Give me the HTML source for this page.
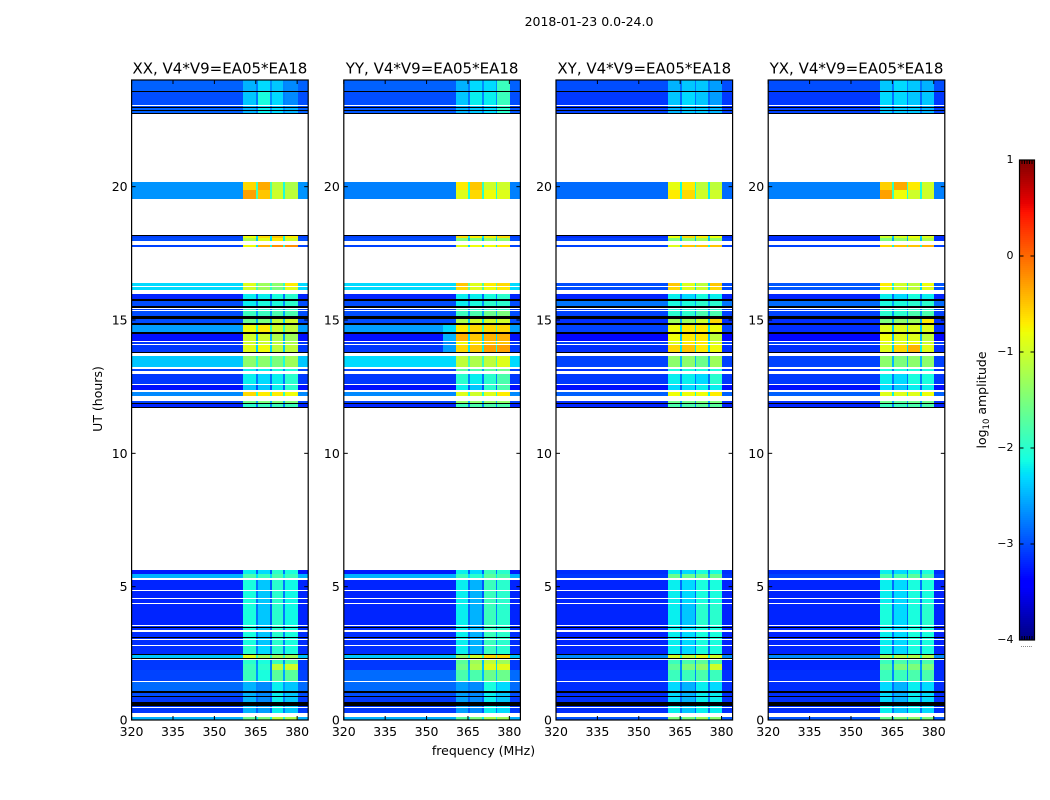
<!DOCTYPE html>
<html>
<head>
<meta charset="utf-8">
<title>2018-01-23 0.0-24.0</title>
<style>
html,body{margin:0;padding:0;background:#fff;width:1050px;height:800px;overflow:hidden}
svg{display:block}
text{font-family:"DejaVu Sans","Liberation Sans",sans-serif;fill:#000}
</style>
</head>
<body>
<svg id="chart" xmlns="http://www.w3.org/2000/svg" width="1050" height="800" viewBox="0 0 1050 800">
  <text x="589" y="26" font-size="12.5" text-anchor="middle">2018-01-23 0.0-24.0</text>
  <text x="483.5" y="755" font-size="12.5" text-anchor="middle">frequency (MHz)</text>
  <text transform="translate(102,399) rotate(-90)" font-size="12.5" text-anchor="middle">UT (hours)</text>
  <text transform="translate(986,400) rotate(-90)" font-size="12.5" text-anchor="middle">log<tspan font-size="8.5" dy="3">10</tspan><tspan dy="-3"> amplitude</tspan></text>
</svg>
<script>
const panelTitles = ['XX, V4*V9=EA05*EA18', 'YY, V4*V9=EA05*EA18', 'XY, V4*V9=EA05*EA18', 'YX, V4*V9=EA05*EA18'];
const xTicks = [320, 335, 350, 365, 380];
const yTicks = [0, 5, 10, 15, 20];
const colorTicks = [1, 0, -1, -2, -3, -4];
const W = null;
const K = -9;
// frequency columns (MHz): background, four receiver blocks separated by narrow gaps
const blockRanges = [[360.5, 365], [365.7, 370.2], [370.7, 375], [375.7, 380.2]];
// time band edges (UT hours)
const bandEdges = [0,.125,.25,.46,.5,.54,.66,.86,.9,1.02,1.09,1.44,1.47,1.875,2.1,2.26,2.3,2.325,2.45,2.49,2.78,2.81,3.01,3.05,3.09,3.13,3.3,3.39,3.45,3.49,3.54,3.56,4.35,4.39,4.54,4.58,4.84,4.88,5.25,5.31,5.46,5.625,11.726,11.756,11.84,11.9,11.96,12.16,12.29,12.375,12.55,12.6,12.975,13.1,13.175,13.225,13.66,13.775,13.81,14.06,14.1,14.16,14.2,14.475,14.56,14.81,14.875,15.04,15.15,15.32,15.375,15.425,15.46,15.525,15.7,15.79,15.99,16.125,16.24,16.275,16.4,17.74,17.81,17.96,18.06,18.085,18.14,18.19,19.54,19.86,20.17,22.725,22.75,22.85,22.875,22.96,22.99,23.03,23.08,23.55,23.59,24];
// per band log10 amplitude: [background, block1, block2, block3, block4, optional near-block background]
const levelsXX = [
[-2.5,-1.6,-1.5,-1.1,-1.2],W,[-3.1,-2.5,-2.6,-2.2,-2.4],W,[-3.1,-2.5,-2.6,-2.2,-2.4],K,[-3.1,-2.5,-2.7,-2.2,-2.4],K,[-3,-2.5,-2.7,-2.2,-2.4],K,
[-2.85,-2.5,-2.7,-2.2,-2.4],W,[-3.05,-1.9,-2.1,-1.7,-1.7],[-3.1,-1.9,-2,-1.1,-1],[-3.1,-2,-2.1,-1.9,-1.8],W,K,[-2.4,-.9,-1.3,-1.3,-1.3],K,[-3.15,-2,-2.3,-2,-2.1],
W,[-3.15,-2.1,-2.4,-2,-2.1],W,[-3.15,-2.1,-2.4,-2,-2.1],K,[-3.15,-2.1,-2.4,-2,-2.1],W,[-3.15,-2.1,-2.4,-2,-2.1],K,[-3.15,-2.1,-2.4,-2,-2.1],
W,[-3.2,-2.1,-2.4,-2,-2.15],W,[-3.2,-2.1,-2.4,-2,-2.15],W,[-3.2,-2.1,-2.4,-2,-2.15],W,[-3.2,-2.1,-2.4,-2,-2.15],W,[-2.5,-1.8,-1.9,-1.8,-1.9],
[-3.25,-2.2,-2.3,-2,-2.1],W,K,[-3.2,-2,-1.9,-1.9,-1.9],K,[-3.05,-1.6,-1.5,-1.5,-1.5],W,[-2.7,-.6,-.7,-.7,-.8],W,[-3.3,-2.4,-2.4,-2.2,-2],
W,[-3.1,-2.2,-2.3,-2.2,-2],W,[-3.05,-2.2,-2.2,-2.1,-2.1],W,[-2.4,-1.4,-1.4,-1.5,-1.3],W,K,[-3.1,-.9,-.8,-1.1,-1.1],W,
[-3.1,-1,-1,-1.1,-1.2],W,[-3.3,-1,-1,-1.2,-1.3],K,[-2.6,-.8,-.7,-1,-1.1],K,[-3,-1.6,-1.5,-1.1,-1],K,[-3,-1.9,-1.9,-1.8,-1.8],W,
[-3.05,-2,-2,-2,-2],W,K,[-3,-2.2,-2.1,-2.1,-2],K,[-3.2,-2.2,-2.2,-2.1,-2],W,[-2.3,-1,-1.3,-1.5,-.9],W,[-2.3,-.9,-1.3,-1.4,-.7],
W,[-3.05,-.8,-.4,-.2,-.2],W,[-3,-1.2,-.9,-.7,-1],W,[-3.05,-.8,-.6,-.5,-.7],K,W,[-2.65,-.3,-.5,-1,-1.1],[-2.65,-.6,-.35,-1.1,-1.2],
W,K,[-2.9,-2.5,-2.2,-2.3,-2.5],K,[-2.9,-2.5,-2.2,-2.3,-2.5],K,[-3,-2.5,-2.3,-2.4,-2.6],W,[-3,-2.4,-2.1,-2.3,-2.7],K,[-2.9,-2.5,-2.3,-2.4,-2.7]
];
const levelsYY = [
[-2.5,-1.7,-1.5,-1.2,-1.3],W,[-3.1,-2.6,-2.7,-2.2,-2.3],W,[-3.1,-2.6,-2.7,-2.2,-2.3],K,[-3.1,-2.6,-2.7,-2.2,-2.4],K,[-3,-2.6,-2.7,-2.2,-2.4],K,
[-2.85,-2.6,-2.7,-2.1,-2.3],W,[-2.85,-1.8,-1.8,-1.6,-1.6],[-3.1,-1.6,-1.2,-.9,-.9],[-3.1,-1.7,-1.3,-1.1,-1.3],W,K,[-2.4,-1.4,-1,-.6,-.6],K,[-3.15,-2.2,-2.5,-1.9,-2],
W,[-3.15,-2.2,-2.5,-1.9,-2],W,[-3.15,-2.2,-2.5,-1.9,-2],K,[-3.15,-2.2,-2.5,-1.9,-2],W,[-3.15,-2.2,-2.5,-1.9,-2],K,[-3.15,-2.2,-2.5,-1.9,-2],
W,[-3.2,-2.2,-2.5,-1.9,-2],W,[-3.2,-2.2,-2.5,-1.9,-2],W,[-3.2,-2.2,-2.5,-1.9,-2],W,[-3.2,-2.2,-2.5,-1.9,-2],W,[-2.5,-1.9,-2,-1.7,-1.8],
[-3.25,-2.2,-2.3,-1.9,-2],W,K,[-3.2,-1.9,-1.8,-1.8,-1.8],K,[-3.05,-1.4,-1.4,-1.4,-1.4],W,[-2.7,-.9,-1,-.9,-.7],W,[-3.3,-2.2,-2.4,-2,-1.8],
W,[-3.1,-2,-2.2,-2,-1.8],W,[-3.05,-1.7,-1.8,-1.7,-1.6],W,[-2.3,-1.1,-1.2,-1.1,-.9],W,K,[-3.1,-.6,-.5,-.3,-.3,-2.6],W,
[-3.1,-.8,-.7,-.5,-.5,-2.7],W,[-3.3,-.4,-.5,-.4,-.4,-2.5],K,[-2.6,-.7,-.6,-.6,-.6,-2.3],K,[-3,-1.2,-1,-1,-1],K,[-3,-1.9,-1.8,-1.6,-1.5],W,
[-3.05,-1.8,-2,-2,-2],W,K,[-3,-2.2,-2.1,-2,-2],K,[-3.2,-2.2,-2.2,-2.1,-2],W,[-2.3,-.6,-.9,-.8,-.7],W,[-2.3,-.5,-.9,-.7,-.6],
W,[-3.05,-.9,-.8,-.8,-.7],W,[-3,-1.5,-1.5,-1.4,-1.4],W,[-3.05,-.6,-.7,-.7,-.6],K,W,[-2.75,-.9,-.6,-.8,-.9],[-2.75,-.7,-.5,-1,-1],
W,K,[-2.95,-2.5,-2.4,-2.3,-2],K,[-2.95,-2.5,-2.4,-2.3,-2],K,[-3.05,-2.5,-2.4,-2.3,-2],W,[-3,-2.4,-2.2,-2.2,-1.9],K,[-2.9,-2.5,-2.3,-2.3,-1.9]
];
const levelsXY = [
[-2.95,-1.5,-1.5,-1.3,-1.4],W,[-3.15,-2.2,-2.4,-2.2,-2.2],W,[-3.15,-2.2,-2.4,-2.2,-2.2],K,[-3.15,-2.3,-2.5,-2.2,-2.2],K,[-3.15,-2.3,-2.5,-2.2,-2.2],K,
[-3.15,-2.3,-2.5,-2.2,-2.3],W,[-3.15,-1.9,-1.9,-1.8,-1.9],[-3.2,-1.7,-1.5,-1.4,-1],[-3.2,-1.9,-1.8,-1.7,-1.8],W,K,[-2.7,-1,-1.1,-.9,-1],K,[-3.2,-2.2,-2.3,-2.1,-2.1],
W,[-3.2,-2.2,-2.3,-2.1,-2.1],W,[-3.2,-2.2,-2.3,-2.1,-2.1],K,[-3.2,-2.2,-2.3,-2.1,-2.1],W,[-3.2,-2.2,-2.3,-2.1,-2.1],K,[-3.2,-2.2,-2.3,-2.1,-2.1],
W,[-3.2,-2.2,-2.4,-2,-2],W,[-3.2,-2.2,-2.3,-2.1,-2.1],W,[-3.2,-2.2,-2.3,-2.1,-2.1],W,[-3.2,-2.2,-2.3,-2.1,-2.1],W,[-3.1,-1.6,-1.6,-1.6,-1.6],
[-3.15,-2.2,-2.3,-2.1,-2.1],W,K,[-3.2,-1.8,-1.8,-1.7,-1.7],K,[-3.15,-1.6,-1.6,-1.5,-1.5],W,[-2.9,-.8,-.8,-.8,-.7],W,[-3.3,-2.3,-2.3,-2.2,-2.2],
W,[-3.1,-2.2,-2.2,-2.3,-2],W,[-3.15,-2.1,-2.1,-2.1,-2.1],W,[-3.05,-1.4,-1.4,-1.6,-1.3],W,K,[-3.15,-.6,-.5,-.7,-.8],W,
[-3.05,-.9,-.7,-.7,-.9],W,[-3.35,-.8,-.7,-.7,-1.1],K,[-3.05,-.8,-.7,-.7,-.8],K,[-3.15,-1.3,-1.3,-1,-.6],K,[-3.05,-2,-2,-1.8,-1.8],W,
[-3.05,-2.1,-2.1,-2,-2],W,K,[-2.8,-2.1,-2.1,-2,-2],K,[-3.2,-2.2,-2.3,-2.1,-2.2],W,[-3,-.6,-.9,-1,-.6],W,[-3,-.5,-.9,-1.1,-.5],
W,[-3.05,-.9,-.5,-.5,-.5],W,[-3.05,-1.5,-1.4,-1.3,-1.4],W,[-3.15,-.8,-.6,-.7,-.8],K,W,[-2.85,-.7,-.6,-1,-1],[-2.85,-.85,-.7,-1.1,-1.1],
W,K,[-3.05,-2.5,-2.4,-2.4,-2.5],K,[-3.05,-2.5,-2.4,-2.4,-2.5],K,[-3.15,-2.5,-2.4,-2.4,-2.5],W,[-3.1,-2.4,-2.3,-2.4,-2.6],K,[-3,-2.5,-2.4,-2.4,-2.6]
];
const levelsYX = [
[-2.95,-1.6,-1.5,-1.4,-1.5],W,[-3.15,-2.2,-2.4,-2.2,-2.3],W,[-3.15,-2.2,-2.4,-2.2,-2.3],K,[-3.15,-2.3,-2.5,-2.2,-2.3],K,[-3.15,-2.3,-2.5,-2.2,-2.3],K,
[-3.15,-2.3,-2.5,-2.2,-2.3],W,[-3.15,-1.9,-1.9,-1.8,-1.8],[-3.2,-1.7,-1.5,-1.5,-1.5],[-3.2,-1.9,-1.8,-1.8,-1.8],W,K,[-2.7,-1.3,-1.2,-1.2,-1.2],K,[-3.2,-2.2,-2.3,-2.1,-2.1],
W,[-3.2,-2.2,-2.3,-2.1,-2.1],W,[-3.2,-2.2,-2.3,-2.1,-2.1],K,[-3.2,-2.2,-2.3,-2.1,-2.1],W,[-3.2,-2.2,-2.3,-2.1,-2.1],K,[-3.2,-2.2,-2.3,-2.1,-2.1],
W,[-3.2,-2.1,-2.3,-2.1,-2],W,[-3.2,-2.2,-2.3,-2.1,-2.1],W,[-3.2,-2.2,-2.3,-2.1,-2.1],W,[-3.2,-2.2,-2.3,-2.1,-2.1],W,[-3.05,-1.8,-1.8,-1.7,-1.8],
[-3.15,-2.2,-2.3,-2.1,-2.1],W,K,[-3.2,-1.9,-1.9,-1.8,-1.8],K,[-3.15,-1.6,-1.7,-1.6,-1.6],W,[-2.9,-.9,-.9,-.9,-.8],W,[-3.3,-2.3,-2.4,-2.2,-2.2],
W,[-3.1,-2.2,-2.3,-2.1,-2.1],W,[-3.15,-2.1,-2.1,-2.1,-2.1],W,[-3.05,-1.4,-1.5,-1.4,-1.4],W,K,[-3.15,-.9,-.6,-.4,-.9],W,
[-3.05,-.9,-.9,-.8,-1],W,[-3.35,-.8,-.9,-.9,-1.1],K,[-3.15,-.9,-.9,-.9,-.9],K,[-3.15,-1.5,-1.4,-1.3,-.7],K,[-3.05,-2,-2,-1.8,-1.8],W,
[-3.05,-2.1,-2.1,-2,-2],W,K,[-2.85,-2.1,-2.1,-2,-2],K,[-3.2,-2.2,-2.3,-2.1,-2.2],W,[-2.95,-.8,-1,-1.1,-.9],W,[-2.95,-.7,-1,-1.1,-.8],
W,[-3.05,-.6,-.5,-.5,-.4],W,[-3.15,-1.5,-1.4,-1.1,-1.2],W,[-3.15,-1,-.9,-.8,-.9],K,W,[-2.75,-.3,-.8,-1,-1],[-2.75,-.55,-.35,-.7,-1],
W,K,[-3.05,-2.4,-2.4,-2.4,-2.5],K,[-3.05,-2.4,-2.4,-2.4,-2.5],K,[-3.15,-2.4,-2.4,-2.4,-2.5],W,[-3.1,-2.3,-2.3,-2.4,-2.4],K,[-3,-2.4,-2.3,-2.4,-2.5]
];
const panelLevels = [levelsXX, levelsYY, levelsXY, levelsYX];

const SVGNS = 'http://www.w3.org/2000/svg';
const svg = document.getElementById('chart');
const panelLeft0 = 131.6, panelStep = 212.2, panelW = 176.6, plotTop = 80, plotBottom = 720;
const freqMin = 320, freqMax = 384, hourMin = 0, hourMax = 24;
const cbarLeft = 1019.5, cbarRight = 1034.5, cbarTop = 160, cbarBottom = 640, cMin = -4, cMax = 1;

function xScale(panel, f) { return panelLeft0 + panel * panelStep + (f - freqMin) / (freqMax - freqMin) * panelW; }
function yScale(h) { return plotBottom - (h - hourMin) / (hourMax - hourMin) * (plotBottom - plotTop); }
function cScale(v) { return cbarBottom - (v - cMin) / (cMax - cMin) * (cbarBottom - cbarTop); }
function ramp(t, pts) {
  for (let i = 1; i < pts.length; i++) {
    if (t <= pts[i][0]) {
      const a = pts[i - 1], b = pts[i];
      return a[1] + (b[1] - a[1]) * (t - a[0]) / (b[0] - a[0]);
    }
  }
  return pts[pts.length - 1][1];
}
function jet(v) {
  if (v <= K) return '#000000';
  const t = Math.max(0, Math.min(1, (v - cMin) / (cMax - cMin)));
  const r = ramp(t, [[0, 0], [.35, 0], [.66, 1], [.89, 1], [1, .5]]);
  const g = ramp(t, [[0, 0], [.125, 0], [.375, 1], [.64, 1], [.91, 0], [1, 0]]);
  const b = ramp(t, [[0, .5], [.11, 1], [.34, 1], [.65, 0], [1, 0]]);
  return 'rgb(' + Math.round(r * 255) + ',' + Math.round(g * 255) + ',' + Math.round(b * 255) + ')';
}
function makeRect(parent, x, y, w, h, fill) {
  const r = document.createElementNS(SVGNS, 'rect');
  r.setAttribute('x', x);
  r.setAttribute('y', y);
  r.setAttribute('width', w);
  r.setAttribute('height', h);
  r.setAttribute('fill', fill);
  parent.appendChild(r);
  return r;
}
function makeLine(parent, x1, y1, x2, y2) {
  const l = document.createElementNS(SVGNS, 'line');
  l.setAttribute('x1', x1);
  l.setAttribute('y1', y1);
  l.setAttribute('x2', x2);
  l.setAttribute('y2', y2);
  l.setAttribute('stroke', '#000');
  l.setAttribute('stroke-width', '1');
  parent.appendChild(l);
  return l;
}
function makeText(parent, x, y, str, size, anchor) {
  const t = document.createElementNS(SVGNS, 'text');
  t.setAttribute('x', x);
  t.setAttribute('y', y);
  t.setAttribute('font-size', size);
  t.setAttribute('text-anchor', anchor);
  t.textContent = str;
  parent.appendChild(t);
  return t;
}

panelTitles.forEach(function (title, p) {
  const g = document.createElementNS(SVGNS, 'g');
  
  
  svg.appendChild(g);

  const cells = document.createElementNS(SVGNS, 'g');
  cells.setAttribute('shape-rendering', 'crispEdges');
  
  
  g.appendChild(cells);

  const levels = panelLevels[p];
  const xLeft = xScale(p, freqMin), xRight = xScale(p, freqMax);
  levels.forEach(function (row, i) {
    if (row === null || row === undefined) return;
    const yTop = Math.round(yScale(bandEdges[i + 1]));
    const yBot = Math.round(yScale(bandEdges[i]));
    const h = Math.max(1, yBot - yTop);
    const drawCell = function (f0, f1, v) {
      const x0 = Math.round(xScale(p, f0)), x1 = Math.round(xScale(p, f1));
      const c = makeRect(cells, x0, yTop, x1 - x0, h, jet(v));
      
      
    };
    if (row === K) {
      drawCell(freqMin, freqMax, K);
      return;
    }
    const bg = row[0];
    const near = row.length > 5 ? row[5] : bg;
    drawCell(freqMin, 356, bg);
    drawCell(356, blockRanges[0][0], near);
    blockRanges.forEach(function (range, b) {
      drawCell(range[0], range[1], row[b + 1]);
      const next = blockRanges[b + 1];
      const gapEnd = next ? next[0] : freqMax;
      const gapLevel = next ? bg * 0.65 + row[b + 1] * 0.35 : bg;
      drawCell(range[1], gapEnd, gapLevel);
    });
  });

  const frame = document.createElementNS(SVGNS, 'rect');
  frame.setAttribute('x', xLeft);
  frame.setAttribute('y', plotTop);
  frame.setAttribute('width', xRight - xLeft);
  frame.setAttribute('height', plotBottom - plotTop);
  frame.setAttribute('fill', 'none');
  frame.setAttribute('stroke', '#000');
  frame.setAttribute('stroke-width', '1.2');
  
  
  g.appendChild(frame);

  xTicks.forEach(function (f) {
    const x = xScale(p, f);
    const t1 = makeLine(g, x, plotBottom, x, plotBottom - 4);
    
    
    const t2 = makeLine(g, x, plotTop, x, plotTop + 4);
    
    
    const lab = makeText(g, x, 736, String(f), 12.5, 'middle');
    
    
  });
  yTicks.forEach(function (h) {
    const y = yScale(h);
    const t1 = makeLine(g, xLeft, y, xLeft + 4, y);
    
    
    const t2 = makeLine(g, xRight, y, xRight - 4, y);
    
    
    const lab = makeText(g, xLeft - 4, y + 4.5, String(h), 12.5, 'end');
    
    
  });
  const ttl = makeText(g, (xLeft + xRight) / 2, 73.5, title, 15, 'middle');
  
  
});

// colorbar
const cbar = document.createElementNS(SVGNS, 'g');


svg.appendChild(cbar);
const cbarFill = document.createElementNS(SVGNS, 'g');
cbarFill.setAttribute('shape-rendering', 'crispEdges');


cbar.appendChild(cbarFill);
for (let py = cbarTop; py < cbarBottom; py += 2) {
  const v = cMax - (py + 1 - cbarTop) / (cbarBottom - cbarTop) * (cMax - cMin);
  makeRect(cbarFill, cbarLeft, py, cbarRight - cbarLeft, 2, jet(v));
}
const cbarFrame = document.createElementNS(SVGNS, 'rect');
cbarFrame.setAttribute('x', cbarLeft);
cbarFrame.setAttribute('y', cbarTop);
cbarFrame.setAttribute('width', cbarRight - cbarLeft);
cbarFrame.setAttribute('height', cbarBottom - cbarTop);
cbarFrame.setAttribute('fill', 'none');
cbarFrame.setAttribute('stroke', '#000');
cbarFrame.setAttribute('stroke-width', '1.2');


cbar.appendChild(cbarFrame);
colorTicks.forEach(function (v) {
  const y = cScale(v);
  const t1 = makeLine(cbar, cbarLeft, y, cbarLeft + 4, y);
  
  
  const t2 = makeLine(cbar, cbarRight, y, cbarRight - 4, y);
  
  
  const lab = makeText(cbar, 1013.5, y + 3, v < 0 ? '\u2212' + Math.abs(v) : String(v), 11, 'end');
  
  
});
for (let n = 1; n <= 5; n++) {
  const xm = cbarLeft + n * (cbarRight - cbarLeft) / 6;
  const m1 = makeLine(cbar, xm, cbarTop, xm, cbarTop + 4);
  
  
  const m2 = makeLine(cbar, xm, cbarBottom, xm, cbarBottom - 4);
  
  
}
const dots = makeText(cbar, 1026.5, 647, '......', 6, 'middle');
dots.setAttribute('fill', '#777');


</script>
</body>
</html>
